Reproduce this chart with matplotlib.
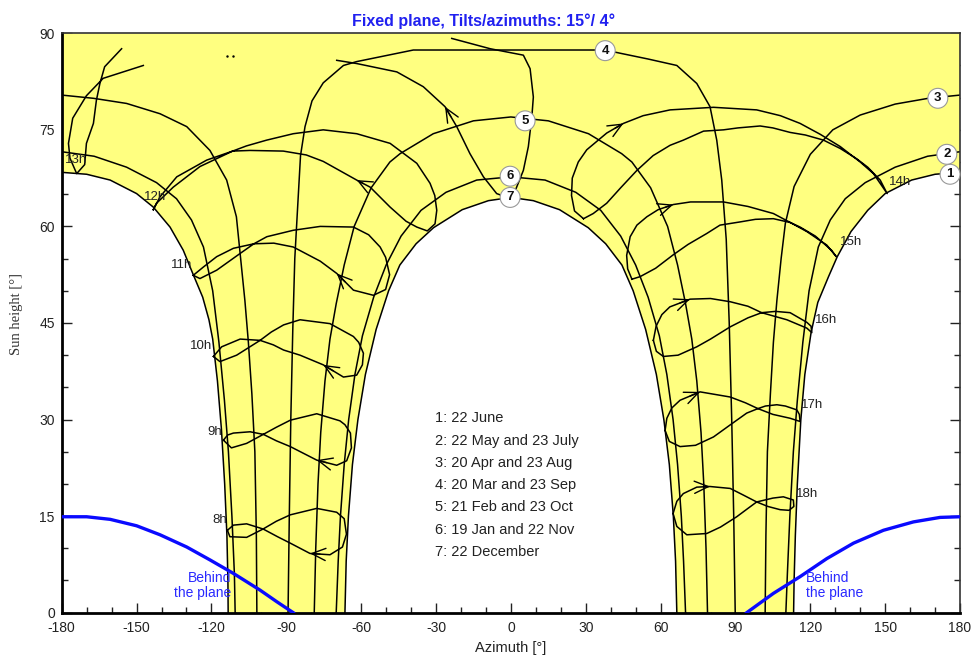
import matplotlib
matplotlib.use("Agg")
import matplotlib.pyplot as plt
from matplotlib.ticker import MultipleLocator

plt.rcParams['font.family'] = ['Liberation Sans', 'DejaVu Sans']
plt.rcParams['axes.unicode_minus'] = False

## data read from the picture : (azimuth [deg], sun height [deg])
# date lines, sunrise -> sunset
d1 = [(-113.3, 0), (-113.4, 5), (-113.8, 12), (-114.7, 20), (-116.0, 28.5), (-117.6, 36),
      (-119.5, 42.5), (-121.0, 45.5), (-123.5, 49.0), (-127.5, 52.7), (-131.3, 56.3),
      (-136.6, 59.9), (-143.3, 63.0), (-150.0, 65.1), (-160.6, 67.2), (-170.0, 68.1), (-180, 68.4),
      (180, 68.4), (170.0, 68.1), (160.6, 67.2), (150.0, 65.1), (143.0, 62.5), (136.3, 59.2),
      (130.8, 55.3), (127.3, 52.2), (123.0, 48.2), (120.3, 43.5), (117.8, 37), (116.2, 30),
      (114.8, 20), (114.0, 12), (113.5, 5), (113.3, 0)]
d2 = [(-110.5, 0), (-110.8, 6), (-111.8, 15), (-113.2, 25), (-114.8, 33), (-117.0, 42),
      (-119.5, 50), (-123.2, 56.8), (-128.0, 61.0), (-134.0, 64.3), (-142.0, 66.8),
      (-154.0, 69.2), (-167.0, 70.9), (-180, 71.6),
      (180, 71.6), (167.0, 70.9), (154.0, 69.2), (142.0, 66.8), (134.0, 64.3), (128.0, 61.0),
      (123.2, 56.8), (119.5, 50), (117.0, 42), (114.8, 33), (113.2, 25), (111.8, 15),
      (110.8, 6), (110.2, 0)]
d3 = [(-101.8, 0), (-102.0, 12), (-102.6, 25), (-103.8, 34), (-105.2, 42), (-106.6, 48.5),
      (-108.3, 55), (-110.0, 61.5), (-113.9, 67.2), (-120.6, 71.8), (-129.9, 75.5),
      (-140.6, 77.5), (-154.0, 79.1), (-167.3, 79.9), (-180, 80.4),
      (180, 80.4), (167.3, 79.9), (154.0, 79.0), (140.0, 77.3), (129.0, 75.0), (120.0, 71.2),
      (113.5, 66.2), (110.0, 60.5), (108.3, 55), (106.6, 48.5), (105.2, 42), (104.0, 34),
      (102.8, 25), (102.2, 12), (101.9, 0)]
d4 = [(-89.3, 0), (-88.8, 15), (-88.2, 30), (-87.4, 44), (-86.6, 55), (-85.6, 62),
      (-84.3, 71), (-82.5, 75.5), (-79.7, 79.5), (-75.2, 82.3), (-67.1, 85.0), (-61.8, 85.6),
      (-39.1, 87.4), (37.8, 87.4), (43.8, 86.9), (55.0, 86.0), (66.5, 85.0), (74.5, 82.2),
      (79.8, 78.6), (82.5, 73.4), (84.5, 67.2), (86.3, 58), (87.5, 45), (88.5, 30),
      (89.3, 15), (89.9, 0)]
d5 = [(-78.8, 0), (-78.2, 10), (-77.3, 20), (-76.2, 28), (-74.5, 36), (-72.5, 42.5),
      (-70.0, 48), (-66.8, 54), (-62.8, 60), (-56.0, 66), (-48.5, 70), (-44.4, 71.3),
      (-31.1, 74.4), (-15.0, 76.4), (0, 77.0), (15.0, 76.4), (31.1, 74.4), (44.4, 71.3),
      (48.5, 70), (56.0, 66), (62.8, 60), (66.8, 54), (70.0, 48), (72.5, 42.5), (74.5, 36),
      (76.2, 28), (77.3, 20), (78.2, 10), (78.8, 0)]
d6 = [(-70.0, 0), (-69.2, 8), (-68.3, 15), (-66.8, 23), (-65.0, 30), (-62.5, 37),
      (-59.5, 43), (-55.0, 49), (-50.0, 54), (-44.0, 58.5), (-36.0, 62.5), (-26.0, 65.3),
      (-13.7, 67.2), (0, 67.7), (13.7, 67.2), (26.0, 65.3), (36.0, 62.5), (44.0, 58.5),
      (50.0, 54), (55.0, 49), (59.5, 43), (62.5, 37), (65.0, 30), (66.8, 23), (68.3, 15),
      (69.2, 8), (70.0, 0)]
d7 = [(-66.5, 0), (-66.0, 8), (-65.1, 15), (-63.5, 23), (-61.3, 30), (-58.3, 37),
      (-54.0, 44), (-49.0, 50), (-44.5, 54), (-38.0, 57.3), (-31.0, 59.8), (-19.5, 62.6),
      (-9.0, 64.0), (0, 64.5), (9.0, 64.0), (19.5, 62.6), (31.0, 59.8), (38.0, 57.3),
      (44.5, 54), (49.0, 50), (54.0, 44), (58.3, 37), (61.3, 30), (63.5, 23), (65.1, 15),
      (66.0, 8), (66.5, 0)]
date_lines = [d1, d2, d3, d4, d5, d6, d7]
date_names = ["22 June", "22 May and 23 July", "20 Apr and 23 Aug", "20 Mar and 23 Sep",
              "21 Feb and 23 Oct", "19 Jan and 22 Nov", "22 December"]

# hour lines (analemmas)
a08 = [(-113.6, 12.8), (-111.2, 13.6), (-105.9, 13.8), (-99.3, 13.0), (-93.5, 11.8),
       (-88.4, 10.8), (-80.5, 9.2), (-72.5, 9.0), (-67.5, 10.2), (-65.9, 12.2), (-66.8, 14.6),
       (-69.8, 15.6), (-77.8, 16.2), (-88.4, 15.2), (-94.0, 14.2), (-99.3, 13.0),
       (-105.9, 11.7), (-112.6, 11.8), (-113.6, 12.8)]
a09 = [(-115.2, 26.8), (-113.5, 27.6), (-111.2, 27.9), (-104.5, 28.1), (-99.2, 27.7),
       (-94.0, 26.7), (-88.4, 25.8), (-77.8, 23.7), (-69.8, 22.9), (-65.8, 23.6),
       (-63.9, 25.6), (-64.3, 27.9), (-66.5, 29.2), (-68.5, 29.8), (-77.8, 30.9),
       (-88.4, 29.9), (-94.0, 28.8), (-99.2, 27.7), (-105.9, 26.3), (-112.0, 25.6),
       (-115.2, 26.8)]
a10 = [(-119.2, 39.8), (-115.9, 41.3), (-108.5, 42.5), (-100.5, 42.3), (-95.2, 41.6),
       (-91.1, 40.8), (-84.5, 40.0), (-75.2, 38.5), (-67.1, 36.6), (-61.8, 36.9),
       (-59.5, 38.5), (-59.1, 40.3), (-61.0, 42.0), (-63.1, 42.9), (-72.5, 44.9),
       (-84.5, 45.5), (-91.1, 44.7), (-96.0, 43.6), (-100.5, 42.3), (-109.9, 40.0),
       (-116.6, 39.0), (-119.2, 39.8)]
a11 = [(-127.3, 52.4), (-123.2, 53.7), (-117.9, 55.3), (-111.2, 56.6), (-103.0, 57.3),
       (-95.0, 57.4), (-87.2, 56.8), (-76.4, 54.6), (-69.8, 52.7), (-63.1, 50.1),
       (-55.1, 49.3), (-50.2, 50.2), (-48.6, 52.5), (-50.2, 55.2), (-52.4, 56.8),
       (-57.0, 58.7), (-63.1, 59.9), (-76.4, 60.0), (-87.2, 59.4), (-97.8, 58.4),
       (-103.0, 57.3), (-108.5, 55.8), (-117.9, 53.2), (-124.6, 51.9), (-127.3, 52.4)]
a12 = [(-143.3, 62.6), (-140.6, 64.6), (-133.9, 67.7), (-121.9, 70.3), (-111.5, 71.7),
       (-104.5, 71.8), (-91.2, 71.7), (-82.0, 71.1), (-75.2, 70.1), (-61.8, 67.2),
       (-56.4, 66.1), (-48.4, 63.0), (-42.0, 60.8), (-37.7, 59.9), (-33.5, 59.3),
       (-30.4, 60.4), (-29.7, 62.5), (-30.5, 64.8), (-32.4, 66.7), (-37.7, 69.8),
       (-48.4, 72.9), (-61.8, 74.4), (-75.2, 75.0), (-87.2, 74.4), (-97.9, 73.4),
       (-106.0, 72.5), (-111.5, 71.7), (-124.6, 69.3), (-135.3, 66.1), (-142.0, 63.6),
       (-143.3, 62.6)]
a13s = [(-23.7, 89.2), (-8.3, 87.6), (5.0, 86.6), (7.7, 84.5), (9.0, 80.1), (8.4, 77.0),
        (7.0, 72.4), (5.0, 68.7), (2.0, 65.8), (-1.5, 64.5), (-5.7, 65.1), (-11.0, 67.7),
        (-16.4, 71.3), (-21.7, 75.5), (-26.4, 78.6), (-35.1, 81.7), (-45.7, 84.0),
        (-61.8, 85.3), (-69.8, 85.8)]
a13n = [(-147.3, 85.0), (-163.4, 83.0), (-170.1, 80.3), (-175.6, 76.8), (-177.3, 72.9),
        (-176.7, 70.6), (-174.0, 68.2), (-170.8, 69.6), (-170.1, 72.9), (-167.3, 76.0),
        (-166.1, 79.6), (-164.7, 82.2), (-162.8, 84.8), (-156.0, 87.6)]
a14 = [(29.1, 61.2), (25.5, 62.4), (24.3, 64.8), (24.6, 67.5), (27.0, 70.0), (30.4, 71.9),
       (38.4, 74.5), (45.1, 76.0), (53.0, 77.2), (63.8, 78.1), (81.2, 78.5), (98.5, 78.1),
       (108.0, 77.2), (115.9, 76.0), (124.0, 74.3), (132.0, 72.4), (140.0, 70.0),
       (145.3, 68.2), (150.8, 65.1), (148.0, 67.2), (143.0, 69.2), (138.6, 70.5),
       (132.0, 72.1), (125.3, 73.4), (118.0, 74.2), (111.9, 74.6), (105.0, 75.3),
       (99.9, 75.6), (91.0, 75.3), (85.2, 75.0), (77.2, 74.8), (69.1, 73.4), (63.8, 72.6),
       (57.0, 71.0), (50.5, 68.7), (44.0, 66.0), (38.4, 63.6), (33.0, 62.0), (29.1, 61.2)]
a15 = [(48.5, 51.8), (46.8, 53.4), (46.4, 55.5), (47.8, 58.4), (50.5, 60.2), (54.5, 61.5),
       (59.0, 62.6), (65.1, 63.4), (72.0, 63.8), (85.2, 63.8), (95.0, 63.1), (105.2, 62.0),
       (112.0, 60.6), (118.6, 59.2), (126.6, 57.1), (130.4, 55.3), (128.5, 56.3),
       (122.0, 58.5), (115.9, 59.9), (112.0, 60.6), (105.2, 61.2), (98.0, 61.1),
       (91.9, 60.7), (83.8, 60.2), (78.5, 58.9), (71.0, 57.2), (65.1, 55.6), (58.0, 53.5),
       (51.8, 52.2), (48.5, 51.8)]
a16 = [(57.1, 42.3), (58.2, 44.5), (60.5, 46.3), (63.7, 47.5), (71.8, 48.7), (80.0, 48.8),
       (87.9, 48.3), (95.0, 47.6), (100.5, 46.6), (110.6, 45.5), (118.6, 44.2), (120.6, 43.5),
       (120.3, 44.5), (118.6, 45.1), (111.9, 46.6), (106.0, 46.8), (100.5, 46.6),
       (95.0, 45.8), (87.9, 44.4), (80.0, 42.5), (74.5, 41.3), (67.0, 40.0), (61.1, 39.8),
       (58.3, 40.6), (57.1, 42.3)]
a17 = [(61.8, 28.3), (62.5, 30.2), (64.5, 31.8), (67.8, 33.0), (75.8, 34.3), (87.9, 33.5),
       (94.0, 32.6), (99.0, 31.7), (105.0, 30.8), (111.9, 30.2), (115.9, 29.7), (115.6, 30.8),
       (114.6, 31.5), (110.0, 32.1), (106.6, 32.3), (102.0, 32.1), (99.0, 31.7),
       (94.5, 31.0), (88.0, 29.2), (81.2, 27.3), (74.0, 26.0), (67.8, 25.8), (63.5, 26.6),
       (61.8, 28.3)]
a18 = [(65.0, 15.4), (66.5, 17.3), (69.1, 18.5), (74.5, 19.5), (79.8, 19.6), (87.9, 19.3),
       (93.0, 18.3), (98.5, 17.2), (103.0, 16.5), (107.9, 16.0), (111.5, 15.9), (113.4, 16.5),
       (113.2, 17.5), (109.2, 18.0), (105.0, 17.8), (98.5, 17.2), (95.0, 16.2), (90.5, 14.9),
       (84.0, 13.3), (78.5, 12.3), (70.5, 12.1), (66.5, 13.4), (65.0, 15.4)]
hour_lines = [a08, a09, a10, a11, a12, a13s, a13n, a14, a15, a16, a17, a18]
specks = [(-113.9, 86.4), (-111.3, 86.4)]

# limit of the plane horizon ("behind the plane")
blue_am = [(-180, 14.9), (-170, 14.9), (-160.6, 14.5), (-150, 13.5), (-140.6, 12.1),
           (-129.9, 10.2), (-120.6, 8.2), (-111.2, 6.1), (-100.5, 3.5), (-93.8, 1.7), (-87.2, 0)]
blue_pm = [(94.5, 0), (105.2, 3.0), (115.9, 5.6), (126.6, 8.4), (137.3, 10.8),
           (149.3, 12.8), (161.3, 14.1), (172, 14.8), (180, 14.9)]

## layout of the labels
hour_labels = [(8, -116.8, 14.4), (9, -118.8, 28.1), (10, -124.0, 41.4), (11, -131.9, 54.0),
               (12, -142.7, 64.6), (13, -174.2, 70.3), (14, 156.0, 66.9), (15, 136.3, 57.6),
               (16, 126.2, 45.5), (17, 120.9, 32.3), (18, 118.8, 18.5)]
date_label_pos = [(176.0, 68.1), (174.7, 71.2), (171.1, 79.9), (37.8, 87.3),
                  (5.7, 76.4), (-0.3, 67.8), (-0.3, 64.5)]
# arrow: (hour line, tip index, index behind the tip)
arrows = [(a08, 6, 7), (a09, 7, 8), (a10, 7, 8), (a11, 8, 9), (a12, 9, 10), (a13s, 14, 13),
          (a14, 7, 6), (a15, 7, 6), (a16, 4, 3), (a17, 4, 3), (a18, 4, 3)]


def split_wrap(pts):
    segs, cur = [], [pts[0]]
    for p, q in zip(pts[:-1], pts[1:]):
        if abs(q[0] - p[0]) > 180:
            segs.append(cur)
            cur = []
        cur.append(q)
    segs.append(cur)
    return segs


def xy(pts):
    return [p[0] for p in pts], [p[1] for p in pts]


## figure
fig = plt.figure(figsize=(9.72, 6.55), dpi=100)
ax = fig.add_axes([0.0635, 0.0646, 0.9242, 0.8846])
ax.set_xlim(-180, 180)
ax.set_ylim(0, 90)
ax.set_axisbelow(True)

# yellow area swept by the sun
d1_am, d1_pm = split_wrap(d1)
poly = [(-180, 90), (180, 90)] + d1_pm + d7[::-1] + d1_am
px, py = xy(poly)
ax.fill(px, py, color="#ffff80", lw=0, zorder=1)

for line in date_lines + hour_lines:
    for seg in split_wrap(line):
        x, y = xy(seg)
        ax.plot(x, y, color="k", lw=1.1, zorder=2)
sx, sy = xy(specks)
ax.plot(sx, sy, "k.", ms=1.5, zorder=2)

for pts, i, j in arrows:
    tip = pts[i]
    tail = (tip[0] + 0.5 * (pts[j][0] - tip[0]), tip[1] + 0.5 * (pts[j][1] - tip[1]))
    ax.annotate("", xy=tip, xytext=tail, zorder=3,
                arrowprops=dict(arrowstyle="->,head_length=0.5,head_width=0.22",
                                color="k", lw=1.0, shrinkA=0, shrinkB=0, mutation_scale=20))

for b in (blue_am, blue_pm):
    x, y = xy(b)
    ax.plot(x, y, color="#0a0aff", lw=2.4, zorder=3)

ax.text(-112.1, 4.2, "Behind\nthe plane", ha="right", va="center", multialignment="right",
        color="#2a2aff", fontsize=10, linespacing=1.05, zorder=5)
ax.text(118.2, 4.2, "Behind\nthe plane", ha="left", va="center", multialignment="left",
        color="#2a2aff", fontsize=10, linespacing=1.05, zorder=5)

for h, x, y in hour_labels:
    ax.text(x, y, f"{h}h", ha="center", va="center", fontsize=9.5, color="#222", zorder=5)

for n, (x, y) in enumerate(date_label_pos, start=1):
    ax.text(x, y, str(n), ha="center", va="center", fontsize=9.5, fontweight="bold",
            color="#111", zorder=6,
            bbox=dict(boxstyle="circle,pad=0.3", fc="white", ec="#999999", lw=0.8))

for n, name in enumerate(date_names):
    ax.text(-30.4, 30.2 - n * 3.46, f"{n + 1}: {name}", ha="left", va="center",
            fontsize=10.5, color="#222", zorder=5)

# axes
ax.xaxis.set_major_locator(MultipleLocator(30))
ax.xaxis.set_minor_locator(MultipleLocator(10))
ax.yaxis.set_major_locator(MultipleLocator(15))
ax.yaxis.set_minor_locator(MultipleLocator(5))
ax.tick_params(which="both", direction="in", top=False, right=True, colors="#222",
               labelsize=10)
ax.tick_params(which="major", length=7, width=1)
ax.tick_params(which="minor", length=4, width=1)
ax.tick_params(axis="x", pad=6)
ax.tick_params(axis="y", pad=5)
for s in ("left", "bottom"):
    ax.spines[s].set_linewidth(2)
    ax.spines[s].set_color("k")
for s in ("top", "right"):
    ax.spines[s].set_linewidth(1.2)
    ax.spines[s].set_color("#333")

fig.text(0.498, 0.968, "Fixed plane, Tilts/azimuths: 15°/ 4°", ha="center", va="center",
         fontsize=11.5, fontweight="bold", color="#2020f0")
fig.text(0.5257, 0.0107, "Azimuth [°]", ha="center", va="center", fontsize=10.5, color="#222")
fig.text(0.0172, 0.52, "Sun height [°]", ha="center", va="center", rotation=90,
         family=["Liberation Serif", "DejaVu Serif"], fontsize=10.5, color="#333")

fig.savefig("out.png", dpi=100)
